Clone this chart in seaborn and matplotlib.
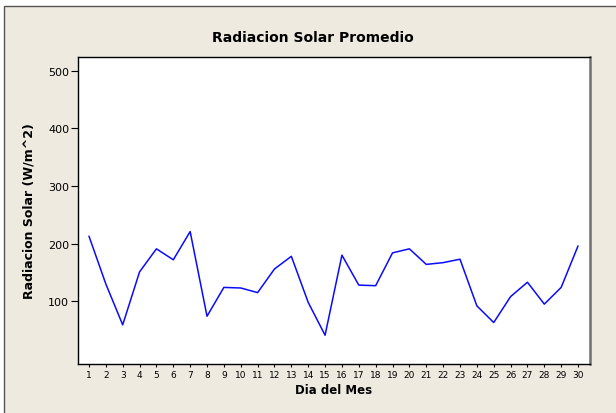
import pandas as pd
import matplotlib.pyplot as plt
import seaborn as sns
from matplotlib.patches import Rectangle

# daily average solar radiation
dias = list(range(1, 31))
radiacion = [213, 130, 59, 151, 191, 172, 221, 74, 124, 123,
             115, 156, 178, 98, 41, 180, 128, 127, 184, 191,
             164, 167, 173, 92, 63, 108, 133, 95, 124, 196]
y_ticks = [100, 200, 300, 400, 500]

df = pd.DataFrame({'Dia': dias, 'Radiacion': radiacion})

sns.set_style('white')
plt.rcParams['font.family'] = ['DejaVu Sans']
plt.rcParams['text.color'] = 'black'

W, H = 616, 414
fig = plt.figure(figsize=(W / 100, H / 100), dpi=100, facecolor='white')
# beige graph window, frame visible only on left/top like the cropped reference
fig.patches.append(Rectangle((3.5 / W, -0.05), 1.1, 1.05 - 7 / H, transform=fig.transFigure,
                             facecolor='#EEEAE0', edgecolor='#555555', linewidth=1.0, zorder=-1))

ax = fig.add_axes([77.5 / W, 1 - 365 / H, (590 - 77.5) / W, (365 - 57.5) / H])
sns.lineplot(x='Dia', y='Radiacion', data=df, ax=ax, color='#0A0AFF', linewidth=1.1)

ax.set_facecolor('white')
ax.set_xlim(0.32, 30.71)
ax.set_ylim(-9, 525)
ax.set_xticks(dias)
ax.set_yticks(y_ticks)
ax.tick_params(axis='x', direction='out', length=2.5, width=0.8, labelsize=6.5, pad=2,
               bottom=True, colors='black')
ax.tick_params(axis='y', direction='out', length=5, width=0.8, labelsize=8, pad=1,
               left=True, colors='black')
for s in ax.spines.values():
    s.set_color('black')
    s.set_linewidth(1.0)
ax.spines['right'].set_color('#707070')
ax.spines['right'].set_linewidth(1.8)

fig.text(313 / W, 1 - 38 / H, 'Radiacion Solar Promedio', fontsize=10, fontweight='bold',
         ha='center', va='center', color='black')
ax.set_xlabel('Dia del Mes', fontsize=8.5, fontweight='bold', labelpad=3, color='black')
ax.set_ylabel('Radiacion Solar (W/m^2)', fontsize=9, fontweight='bold', labelpad=9, color='black')

plt.savefig('out.png', dpi=100, facecolor='white')
plt.close()
